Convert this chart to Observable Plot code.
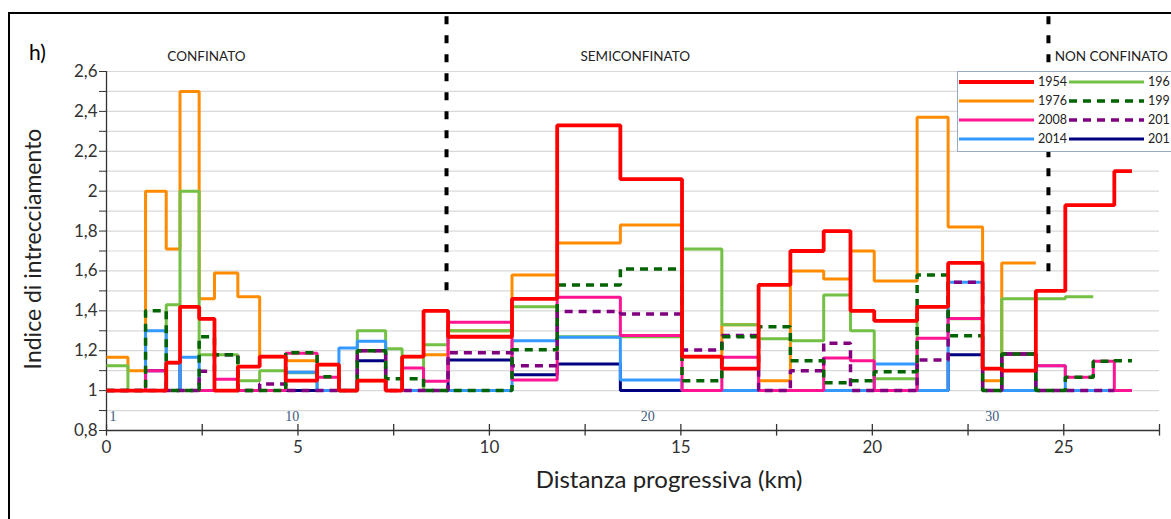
<!DOCTYPE html>
<html><head><meta charset="utf-8">
<script src="https://cdn.jsdelivr.net/npm/d3@7"></script>
<script src="https://cdn.jsdelivr.net/npm/@observablehq/plot@0.6"></script>
<style>
html,body{margin:0;padding:0;background:#fff;overflow:hidden;width:1171px;height:519px}
#wrap{position:relative;width:1171px;height:519px;overflow:hidden;font-family:Lato,"Open Sans",sans-serif}
#chart{position:absolute;left:0;top:0}
#frame{position:absolute;left:8px;top:12px;width:2000px;height:2000px;border-top:2px solid #000;border-left:2px solid #000;pointer-events:none}
#legend{position:absolute;left:957px;top:71px;width:260px;height:79px;border:1.5px solid #9aaabf;background:#fff}
</style></head><body>
<div id="wrap"><div id="chart"></div><div id="legend"></div><div id="frame"></div></div>
<script>
// Segment boundaries along the river (km)
const breaks = [0, 0.56, 1.02, 1.56, 1.92, 2.42, 2.82, 3.43, 4.0, 4.68, 5.5, 6.07, 6.55, 7.29, 7.72, 8.28, 8.92, 10.59, 11.77, 13.42, 15.03, 16.07, 17.03, 17.86, 18.73, 19.43, 20.05, 21.17, 21.98, 22.88, 23.38, 24.27, 25.04, 25.77, 26.32, 26.78];

// Braiding index per segment (35 segments)
const v1954 = [1.0, 1.0, 1.0, 1.14, 1.42, 1.36, 1.0, 1.12, 1.17, 1.05, 1.13, 1.0, 1.05, 1.0, 1.17, 1.40, 1.27, 1.46, 2.33, 2.06, 1.17, 1.11, 1.53, 1.70, 1.80, 1.40, 1.35, 1.42, 1.64, 1.11, 1.10, 1.50, 1.93, 1.93, 2.10];
const v196 = [1.125, 1.0, 1.0, 1.43, 2.0, 1.18, 1.18, 1.05, 1.10, 1.09, 1.0, 1.0, 1.30, 1.21, 1.0, 1.23, 1.30, 1.42, 1.27, 1.27, 1.71, 1.33, 1.26, 1.25, 1.48, 1.30, 1.06, 1.42, 1.36, 1.0, 1.46, 1.46, 1.47, null, null];
const v1976 = [1.167, 1.10, 2.0, 1.71, 2.5, 1.46, 1.59, 1.47, 1.17, 1.15, 1.13, 1.0, 1.05, 1.0, 1.17, 1.18, 1.30, 1.58, 1.74, 1.83, 1.17, 1.33, 1.05, 1.60, 1.56, 1.70, 1.55, 2.37, 1.82, 1.05, 1.64, null, null, null, null];
const v199 = [1.0, 1.0, 1.40, 1.0, 1.0, 1.27, 1.18, 1.0, 1.0, 1.19, 1.07, 1.0, 1.20, 1.06, 1.06, 1.0, 1.0, 1.205, 1.53, 1.61, 1.05, 1.27, 1.32, 1.15, 1.04, 1.05, 1.095, 1.58, 1.275, 1.0, 1.184, 1.0, 1.067, 1.147, 1.15];
const v2008 = [1.0, 1.0, 1.10, 1.0, 1.0, 1.0, 1.057, 1.0, 1.0, 1.187, 1.067, 1.0, 1.20, 1.0, 1.113, 1.047, 1.343, 1.053, 1.468, 1.276, 1.0, 1.167, 1.0, 1.0, 1.164, 1.15, 1.0, 1.262, 1.362, 1.0, 1.184, 1.125, 1.067, 1.147, 1.0];
const v201a = [1.0, 1.0, 1.0, 1.0, 1.0, 1.097, 1.18, 1.0, 1.033, 1.0, 1.0, 1.0, 1.20, 1.0, 1.0, 1.0, 1.19, 1.125, 1.397, 1.384, 1.204, 1.276, 1.0, 1.10, 1.237, 1.0, 1.0, 1.154, 1.543, 1.0, 1.184, 1.0, 1.0, 1.0, null];
const v2014 = [1.0, 1.0, 1.30, 1.0, 1.167, 1.0, 1.0, 1.0, 1.0, 1.092, 1.0, 1.214, 1.247, 1.0, 1.0, 1.0, 1.0, 1.25, 1.267, 1.053, 1.0, 1.0, 1.0, 1.0, 1.0, 1.0, 1.134, 1.0, 1.543, 1.0, 1.0, 1.125, 1.0, 1.0, 1.0];
const v201b = [1.0, 1.0, 1.10, 1.14, 1.0, 1.0, 1.0, 1.0, 1.0, 1.0, 1.0, 1.0, 1.15, 1.0, 1.0, 1.0, 1.154, 1.08, 1.134, 1.0, 1.0, 1.0, 1.0, 1.0, 1.0, 1.0, 1.0, 1.0, 1.18, 1.0, 1.184, 1.0, 1.0, 1.0, 1.0];

const seriesNames = ["1954", "196", "1976", "199", "2008", "201", "2014", "201"];
const seriesValues = [v1954, v196, v1976, v199, v2008, v201a, v2014, v201b];

// Zone labels and boundaries
const zoneNames = ["CONFINATO", "SEMICONFINATO", "NON CONFINATO"];
const zoneLabelX = [2.61, 13.81, 26.24];
const boundaryX = [8.88, 24.6];
const boundaryLow = [1.46, 1.585];
const segLabels = ["1", "10", "20", "30"];
const segLabelX = [0.08, 4.67, 13.95, 22.95];

// styles
const styles = [
  {stroke: "#ff0000", strokeWidth: 3.8},
  {stroke: "#74c044", strokeWidth: 3},
  {stroke: "#ff8c00", strokeWidth: 3},
  {stroke: "#006400", strokeWidth: 3.5, dash: "8,6"},
  {stroke: "#ff1493", strokeWidth: 3},
  {stroke: "#800080", strokeWidth: 3.5, dash: "8,6"},
  {stroke: "#3399ff", strokeWidth: 3},
  {stroke: "#000080", strokeWidth: 3}
];
const drawOrder = [7, 2, 1, 6, 4, 5, 3, 0];

function stepPoints(vals) {
  const pts = [];
  vals.forEach((v, i) => {
    const y = v == null ? NaN : v;
    pts.push({x: breaks[i], y});
    pts.push({x: breaks[i + 1], y});
  });
  return pts;
}

const minorY = d3.range(8, 27).map(d => d / 10);
const majorY = d3.range(8, 27, 2).map(d => d / 10);
const xTicks = d3.range(0, 28, 2.5);
const fmt = d => String(d).replace(".", ",");
const boundaries = boundaryX.map((x, i) => ({x, low: boundaryLow[i]}));

const lineMarks = drawOrder.map(i => Plot.line(stepPoints(seriesValues[i]), {
  x: "x", y: "y", stroke: styles[i].stroke, strokeWidth: styles[i].strokeWidth,
  strokeDasharray: styles[i].dash, strokeLinejoin: "miter", strokeLinecap: "butt"
}));

const chart = Plot.plot({
  width: 1171, height: 519,
  marginLeft: 106, marginRight: 12, marginTop: 71, marginBottom: 89,
  x: {domain: [0, 27.5], label: null},
  y: {domain: [0.8, 2.6], label: null},
  style: {fontFamily: "Lato, 'Open Sans', sans-serif", background: "transparent", overflow: "visible", color: "#333"},
  marks: [
    Plot.gridY({ticks: minorY, stroke: "#d9d9d9", strokeOpacity: 1, strokeWidth: 1.2}),
    Plot.axisY({ticks: minorY, tickSize: 7, tickFormat: () => "", stroke: "#333", label: null}),
    Plot.axisY({ticks: majorY, tickSize: 0, tickPadding: 9, tickFormat: fmt, fontSize: 17, fill: "#333", label: null}),
    Plot.axisX({ticks: d3.range(0, 30, 5), tickSize: 0, tickPadding: 10, fontSize: 17, fill: "#333", label: null}),
    Plot.ruleX(xTicks, {x: d => d, y1: 0.772, y2: 0.83, stroke: "#333", strokeWidth: 1.3}),
    Plot.ruleX([0], {y1: 0.8, y2: 2.6, stroke: "#333", strokeWidth: 1.3}),
    Plot.ruleY([0.8], {x1: 0, x2: 27.5, stroke: "#333", strokeWidth: 1.3}),
    ...lineMarks,
    Plot.ruleX(boundaries, {x: "x", y1: 2.875, y2: "low", stroke: "#000", strokeWidth: 4, strokeDasharray: "8,11"}),
    Plot.text(zoneNames, {x: (d, i) => zoneLabelX[i], y: 2.675, text: d => d, fontSize: 13.5, fill: "#222", textAnchor: "middle"}),
    Plot.text(segLabels, {x: (d, i) => segLabelX[i], y: 0.87, text: d => d, fontSize: 14, fill: "#3d5a80", textAnchor: "start", fontFamily: "'Liberation Serif', serif"}),
    Plot.text(["h)"], {text: d => d, frameAnchor: "top-left", dx: -69, dy: -26, fontSize: 21, fill: "#000", textAnchor: "middle"}),
    Plot.text(["Distanza progressiva (km)"], {text: d => d, frameAnchor: "bottom", dx: 36, dy: 57, fontSize: 24, fill: "#222", textAnchor: "middle"}),
    Plot.text(["Indice di intrecciamento"], {text: d => d, frameAnchor: "left", dx: -73, dy: -2, rotate: -90, fontSize: 23, fill: "#222", textAnchor: "middle"})
  ]
});
document.getElementById("chart").appendChild(chart);

// Legend (two columns, row-wise)
const lg = d3.select("#legend").append("svg").attr("width", 260).attr("height", 79)
  .style("font-family", "Lato, 'Open Sans', sans-serif").style("font-size", "12.5px");
seriesNames.forEach((name, i) => {
  const row = Math.floor(i / 2), col = i % 2;
  const y = 10 + row * 19;
  const x0 = col === 0 ? 1 : 111;
  lg.append("line").attr("x1", x0).attr("x2", x0 + 75).attr("y1", y).attr("y2", y)
    .attr("stroke", styles[i].stroke).attr("stroke-width", styles[i].strokeWidth)
    .attr("stroke-dasharray", styles[i].dash || null);
  lg.append("text").attr("x", x0 + 79).attr("y", y).attr("dy", "0.35em").attr("fill", "#222").text(name);
});
</script>
</body></html>
